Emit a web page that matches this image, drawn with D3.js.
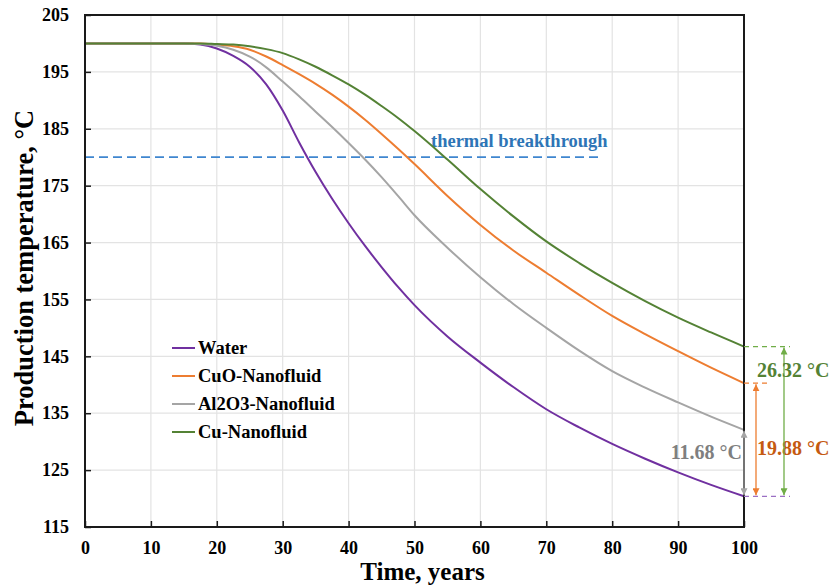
<!DOCTYPE html>
<html>
<head>
<meta charset="utf-8">
<script src="https://cdn.jsdelivr.net/npm/d3@7"></script>
<style>
  html, body { margin: 0; padding: 0; background: #fff; }
  svg text { font-family: "Liberation Serif", "Times New Roman", serif; font-weight: bold; }
</style>
</head>
<body>
<svg id="chart" width="833" height="588"></svg>
<script>
// Production temperature (°C) over time for the working fluids
const years = [0, 5, 10, 15, 17.5, 20, 22.5, 25, 27.5, 30, 32.5, 35, 37.5, 40, 42.5, 45, 47.5, 50,
               55, 60, 65, 70, 75, 80, 85, 90, 95, 100];
const water = [200, 200, 200, 200, 199.8, 199.1, 197.8, 195.9, 192.8, 188.2, 182.6, 177.4, 172.7, 168.4, 164.4, 160.7, 157.2, 154.0,
               148.5, 143.9, 139.6, 135.7, 132.5, 129.6, 127.0, 124.6, 122.4, 120.4];
const cuo   = [200, 200, 200, 200, 200, 199.8, 199.5, 198.9, 197.7, 196.2, 194.6, 192.9, 191.0, 188.9, 186.6, 184.1, 181.5, 178.8,
               173.2, 168.1, 163.6, 159.7, 155.8, 152.1, 148.9, 145.9, 143.0, 140.28];
const al2o3 = [200, 200, 200, 200, 199.9, 199.6, 198.9, 197.7, 195.8, 193.3, 190.7, 188.0, 185.3, 182.5, 179.6, 176.5, 173.2, 169.8,
               164.1, 158.9, 154.2, 150.0, 146.0, 142.4, 139.5, 136.9, 134.4, 132.08];
const cu    = [200, 200, 200, 200, 200, 199.9, 199.8, 199.5, 199.0, 198.3, 197.2, 195.9, 194.4, 192.8, 191.0, 189.0, 186.9, 184.6,
               179.6, 174.4, 169.6, 165.2, 161.4, 157.9, 154.7, 151.8, 149.2, 146.72];

const seriesNames  = ["Water", "CuO-Nanofluid", "Al2O3-Nanofluid", "Cu-Nanofluid"];
const seriesColors = ["#7030A0", "#ED7D31", "#A5A5A5", "#548235"];
const seriesValues = [water, cuo, al2o3, cu];

const xTicks = [0, 10, 20, 30, 40, 50, 60, 70, 80, 90, 100];
const yTicks = [115, 125, 135, 145, 155, 165, 175, 185, 195, 205];
const breakthroughTemp = 180;
const breakthroughEndYear = 78;

const svg = d3.select("#chart");
const margin = { left: 85, top: 15, right: 89, bottom: 61 };
const W = 833 - margin.left - margin.right;
const H = 588 - margin.top - margin.bottom;

const x = d3.scaleLinear().domain([0, 100]).range([margin.left, margin.left + W]);
const y = d3.scaleLinear().domain([115, 205]).range([margin.top + H, margin.top]);

// grid
const grid = svg.append("g");
grid.selectAll(".gx").data(xTicks.slice(1, -1)).join("line")
  .attr("x1", d => x(d)).attr("x2", d => x(d))
  .attr("y1", y(115)).attr("y2", y(205))
  .attr("stroke", "#e3e3e3").attr("stroke-width", 1.2);
grid.selectAll(".gy").data(yTicks.slice(1, -1)).join("line")
  .attr("y1", d => y(d)).attr("y2", d => y(d))
  .attr("x1", x(0)).attr("x2", x(100))
  .attr("stroke", "#e3e3e3").attr("stroke-width", 1.2);

// thermal breakthrough line
svg.append("line")
  .attr("x1", x(0)).attr("x2", x(breakthroughEndYear))
  .attr("y1", y(breakthroughTemp)).attr("y2", y(breakthroughTemp))
  .attr("stroke", "#3F86CF").attr("stroke-width", 1.8)
  .attr("stroke-dasharray", "9,5");
svg.append("text")
  .attr("x", x(52.5)).attr("y", y(breakthroughTemp) - 10)
  .attr("fill", "#2E75B6").attr("font-size", 18.5)
  .text("thermal breakthrough");

// curves
const line = d3.line()
  .x((d, i) => x(years[i]))
  .y(d => y(d))
  .curve(d3.curveMonotoneX);
seriesValues.forEach((vals, k) => {
  svg.append("path")
    .datum(vals)
    .attr("d", line)
    .attr("fill", "none")
    .attr("stroke", seriesColors[k])
    .attr("stroke-width", 2);
});

// frame and axes
svg.append("rect")
  .attr("x", x(0)).attr("y", y(205))
  .attr("width", x(100) - x(0)).attr("height", y(115) - y(205))
  .attr("fill", "none").attr("stroke", "#1a1a1a").attr("stroke-width", 2);

const xAxis = d3.axisBottom(x).tickValues(xTicks).tickSizeInner(-6).tickSizeOuter(0).tickPadding(14);
const gx = svg.append("g").attr("transform", `translate(0,${y(115)})`).call(xAxis);
gx.select(".domain").remove();
gx.selectAll(".tick line").attr("stroke", "#1a1a1a").attr("stroke-width", 1.5);
gx.selectAll(".tick text").attr("font-size", 18).attr("fill", "#000")
  .attr("font-family", "'Liberation Serif','Times New Roman',serif").attr("font-weight", "bold");

const yAxis = d3.axisLeft(y).tickValues(yTicks).tickSizeInner(-6).tickSizeOuter(0).tickPadding(16);
const gy = svg.append("g").attr("transform", `translate(${x(0)},0)`).call(yAxis);
gy.select(".domain").remove();
gy.selectAll(".tick line").attr("stroke", "#1a1a1a").attr("stroke-width", 1.5);
gy.selectAll(".tick text").attr("font-size", 18).attr("fill", "#000")
  .attr("font-family", "'Liberation Serif','Times New Roman',serif").attr("font-weight", "bold");

// axis titles
svg.append("text")
  .attr("x", (x(0) + x(100)) / 2 + 8).attr("y", 580)
  .attr("text-anchor", "middle").attr("font-size", 25).attr("fill", "#000")
  .text("Time, years");
svg.append("text")
  .attr("transform", `translate(33,${(y(205) + y(115)) / 2 - 3}) rotate(-90)`)
  .attr("text-anchor", "middle").attr("font-size", 26.5).attr("fill", "#000")
  .text("Production temperature, °C");

// legend
const legend = svg.append("g").attr("transform", "translate(172,348)");
seriesNames.forEach((name, i) => {
  const g = legend.append("g").attr("transform", `translate(0,${i * 28})`);
  g.append("line").attr("x1", 0).attr("x2", 23).attr("y1", 0).attr("y2", 0)
    .attr("stroke", seriesColors[i]).attr("stroke-width", 2);
  g.append("text").attr("x", 26).attr("y", 6).attr("font-size", 18.5).attr("fill", "#000").text(name);
});

// temperature differences at year 100
const defs = svg.append("defs");
function marker(id, color) {
  const m = defs.append("marker").attr("id", id)
    .attr("viewBox", "0 0 10 10").attr("refX", 10).attr("refY", 5)
    .attr("markerWidth", 7).attr("markerHeight", 7)
    .attr("markerUnits", "userSpaceOnUse").attr("orient", "auto-start-reverse");
  m.append("path").attr("d", "M0,0 L10,5 L0,10 Z").attr("fill", color);
}
const last = years.length - 1;
const baseEnd = water[last];
const diffs = [
  { vals: al2o3, color: "#A5A5A5", textColor: "#7F7F7F", dx: 0,  dash: 0,  tdx: -2, tdy: 29, anchor: "end" },
  { vals: cuo,   color: "#ED7D31", textColor: "#C55A11", dx: 12, dash: 26, tdx: 13, tdy: 72, anchor: "start" },
  { vals: cu,    color: "#70AD47", textColor: "#548235", dx: 40, dash: 46, tdx: 13, tdy: 30, anchor: "start" }
];
const xEnd = x(100);
// dashed guide at the water end value
svg.append("line")
  .attr("x1", xEnd).attr("x2", xEnd + 46)
  .attr("y1", y(baseEnd)).attr("y2", y(baseEnd))
  .attr("stroke", "#9B6FC4").attr("stroke-width", 1.3).attr("stroke-dasharray", "5,4");
diffs.forEach((d, i) => {
  const top = d.vals[last];
  marker("arr" + i, d.color);
  if (d.dash > 0) {
    svg.append("line")
      .attr("x1", xEnd).attr("x2", xEnd + d.dash)
      .attr("y1", y(top)).attr("y2", y(top))
      .attr("stroke", d.color).attr("stroke-width", 1.3).attr("stroke-dasharray", "5,4");
  }
  svg.append("line")
    .attr("x1", xEnd + d.dx).attr("x2", xEnd + d.dx)
    .attr("y1", y(top) + 1).attr("y2", y(baseEnd) - 1)
    .attr("stroke", d.color).attr("stroke-width", 1.3)
    .attr("marker-start", `url(#arr${i})`).attr("marker-end", `url(#arr${i})`);
  svg.append("text")
    .attr("x", xEnd + d.tdx).attr("y", y(top) + d.tdy)
    .attr("text-anchor", d.anchor)
    .attr("fill", d.textColor).attr("font-size", 20)
    .text(`${(top - baseEnd).toFixed(2)} °C`);
});
</script>
</body>
</html>
